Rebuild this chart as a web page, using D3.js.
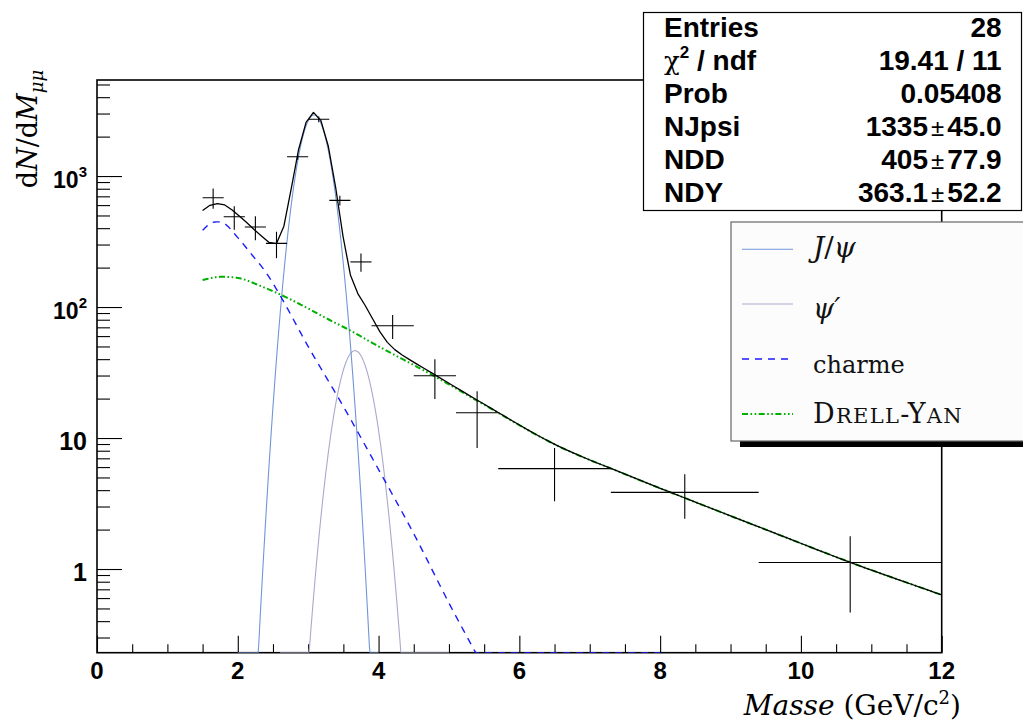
<!DOCTYPE html>
<html><head><meta charset="utf-8">
<script src="https://cdn.jsdelivr.net/npm/d3@7"></script>
<style>body{margin:0;background:#fff} svg{display:block}</style>
</head><body>
<svg id="c" width="1023" height="722"></svg>
<script>
// ---------------- data ----------------
const xDomain = [0, 12];
const yDomain = [0.2297, 5410];
const xMajorTicks = [0, 2, 4, 6, 8, 10, 12];
const xTickLabels = ["0", "2", "4", "6", "8", "10", "12"];
const yMajorTicks = [1, 10, 100, 1000];

// histogram (variable bins)
const binLow  = [1.5, 1.8, 2.1, 2.4, 2.7, 3.0, 3.3, 3.6, 3.9, 4.5, 5.1, 5.7, 7.3, 9.4];
const binHigh = [1.8, 2.1, 2.4, 2.7, 3.0, 3.3, 3.6, 3.9, 4.5, 5.1, 5.7, 7.3, 9.4, 12.0];
const binValue = [683, 489, 408, 306, 1404, 2711, 652, 221, 72, 29.9, 15.6, 5.84, 3.85, 1.12];
const binError = [120, 100, 85, 70, 75, 140, 55, 35, 15, 10, 7.2, 2.55, 1.43, 0.655];

// fit components: gaussian [mean, sigma, integral], drawn range
const jpsiParams = [3.083, 0.182, 1335];
const jpsiRange = [2.0, 4.0];
const psiPrimeParams = [3.665, 0.200, 23.3];
const psiPrimeRange = [2.6, 5.0];

// charm (open charm) component
const charmX = [1.5, 1.6, 1.7, 1.8, 2.0, 2.2, 2.4, 2.6, 3.0, 3.5, 4.0, 4.5, 5.0, 5.5, 6.0, 7.0, 8.0];
const charmY = [385, 431, 447, 437, 339, 251, 184, 123, 50, 17.4, 5.75, 1.86, 0.55, 0.174, 0.055, 0.0055, 0.00055];
// Drell-Yan component
const dyX = [1.5, 1.75, 2.0, 2.32, 2.74, 3.31, 3.6, 4.0, 4.78, 5.45, 6.51, 7.5, 8.36, 9.5, 10.71, 12];
const dyY = [161, 170, 167, 145, 115, 79.4, 66.1, 50.1, 29.9, 18.6, 8.9, 5.3, 3.47, 2.0, 1.12, 0.634];
const totalRange = [1.5, 12.0];

// stats box
const statLabels = ["Entries", "χ2 / ndf", "Prob", "NJpsi", "NDD", "NDY"];
const statValues = ["28", "19.41 / 11", "0.05408", "1335±45.0", "405±77.9", "363.1±52.2"];

// legend
const legendKeys = ["jpsi", "psip", "charm", "dy"];

// ---------------- drawing ----------------
const W = 1023, H = 722;
const L = 97, R = 941.7, T = 80, B = 652.7;
const svg = d3.select("#c");
svg.append("rect").attr("width", W).attr("height", H).attr("fill", "#fff");

const x = d3.scaleLinear().domain(xDomain).range([L, R]);
const y = d3.scaleLog().domain(yDomain).range([B, T]).clamp(true);

svg.append("defs").append("clipPath").attr("id", "frame")
  .append("rect").attr("x", L).attr("y", T).attr("width", R - L).attr("height", B - T);

const styles = {
  jpsi:  {color: "#7096d8", width: 1.1, dash: null},
  psip:  {color: "#a9a9cc", width: 1.1, dash: null},
  charm: {color: "#1a1aff", width: 1.4, dash: "7 6"},
  dy:    {color: "#00b000", width: 2, dash: "6 2.5 1.6 2.5 1.6 2.5"},
  total: {color: "#000", width: 1.3, dash: null}
};

function gauss(p, v) {
  const [m, s, n] = p;
  return n / (s * Math.sqrt(2 * Math.PI)) * Math.exp(-0.5 * ((v - m) / s) ** 2);
}
// monotone cubic (Fritsch-Carlson) through the read points, in log space
function makeLogInterp(xs, ys) {
  const n = xs.length, l = ys.map(Math.log10);
  const d = d3.range(n - 1).map(i => (l[i + 1] - l[i]) / (xs[i + 1] - xs[i]));
  const m = new Array(n);
  m[0] = d[0]; m[n - 1] = d[n - 2];
  for (let i = 1; i < n - 1; i++) m[i] = (d[i - 1] * d[i] <= 0) ? 0 : (d[i - 1] + d[i]) / 2;
  for (let i = 0; i < n - 1; i++) {
    if (d[i] === 0) { m[i] = 0; m[i + 1] = 0; continue; }
    const a = m[i] / d[i], b = m[i + 1] / d[i], s = a * a + b * b;
    if (s > 9) { const t = 3 / Math.sqrt(s); m[i] = t * a * d[i]; m[i + 1] = t * b * d[i]; }
  }
  return v => {
    if (v < xs[0] || v > xs[n - 1]) return 0;
    let i = d3.bisectRight(xs, v) - 1;
    if (i >= n - 1) i = n - 2;
    const h = xs[i + 1] - xs[i], t = (v - xs[i]) / h;
    const h00 = 2 * t ** 3 - 3 * t * t + 1, h10 = t ** 3 - 2 * t * t + t, h01 = -2 * t ** 3 + 3 * t * t, h11 = t ** 3 - t * t;
    return Math.pow(10, h00 * l[i] + h10 * h * m[i] + h01 * l[i + 1] + h11 * h * m[i + 1]);
  };
}
const fns = {
  jpsi: v => gauss(jpsiParams, v),
  psip: v => gauss(psiPrimeParams, v),
  charm: makeLogInterp(charmX, charmY),
  dy: makeLogInterp(dyX, dyY)
};
const total = v => fns.jpsi(v) + fns.psip(v) + fns.charm(v) + fns.dy(v);

function sample(f, a, b, n) {
  return d3.range(n + 1).map(k => { const v = a + (b - a) * k / n; return [v, Math.max(f(v), 1e-12)]; });
}
const line = d3.line().x(d => x(d[0])).y(d => y(d[1]));

// axes (inward ticks)
const xMinor = d3.range(0, 12.01, 0.5).filter(v => !xMajorTicks.includes(v));
const gx1 = svg.append("g").attr("transform", `translate(0,${B})`)
  .call(d3.axisBottom(x).tickValues(xMajorTicks).tickSize(-17).tickFormat(""));
const gx2 = svg.append("g").attr("transform", `translate(0,${B})`)
  .call(d3.axisBottom(x).tickValues(xMinor).tickSize(-8.5).tickFormat(""));
const yMinor = [];
[0.1, 1, 10, 100, 1000].forEach(d => { for (let k = 2; k <= 9; k++) { const v = d * k; if (v >= yDomain[0] && v <= yDomain[1]) yMinor.push(v); } });
const gy1 = svg.append("g").attr("transform", `translate(${L},0)`)
  .call(d3.axisLeft(y).tickValues(yMajorTicks).tickSize(-25).tickFormat(""));
const gy2 = svg.append("g").attr("transform", `translate(${L},0)`)
  .call(d3.axisLeft(y).tickValues(yMinor).tickSize(-13).tickFormat(""));
[gx1, gx2, gy1, gy2].forEach(g => { g.select(".domain").remove(); g.selectAll("line").attr("stroke", "#000").attr("stroke-width", 1.1); });

// frame
svg.append("rect").attr("x", L).attr("y", T).attr("width", R - L).attr("height", B - T)
  .attr("fill", "none").attr("stroke", "#000").attr("stroke-width", 1.6);

// x tick labels
svg.append("g").selectAll("text").data(xMajorTicks).join("text")
  .attr("x", d => x(d)).attr("y", 679).attr("text-anchor", "middle")
  .attr("font-family", "Liberation Sans, Arial, sans-serif").attr("font-weight", "bold").attr("font-size", 24)
  .text((d, i) => xTickLabels[i]);

// y tick labels
const ylab = svg.append("g").attr("font-family", "Liberation Sans, Arial, sans-serif").attr("font-weight", "bold");
yMajorTicks.forEach(v => {
  const e = Math.round(Math.log10(v));
  const t = ylab.append("text").attr("x", 87).attr("y", y(v) + 11.5).attr("text-anchor", "end");
  if (e <= 1) { t.attr("font-size", 25).text(String(v)); }
  else {
    t.append("tspan").attr("font-size", 23).text("10");
    t.append("tspan").attr("font-size", 15).attr("dy", -11).text(String(e));
  }
});

// axis titles
const yt = svg.append("text").attr("transform", "translate(37,129) rotate(-90)")
  .attr("text-anchor", "middle").attr("font-family", "DejaVu Serif, serif").attr("font-size", 27);
yt.append("tspan").text("d");
yt.append("tspan").attr("font-style", "italic").text("N");
yt.append("tspan").text("/d");
yt.append("tspan").attr("font-style", "italic").text("M");
yt.append("tspan").attr("font-style", "italic").attr("font-size", 18).attr("dy", 6).text("μμ");

const xt = svg.append("text").attr("x", 961).attr("y", 715).attr("text-anchor", "end")
  .attr("font-family", "DejaVu Serif, serif").attr("font-size", 28);
xt.append("tspan").attr("font-style", "italic").text("Masse");
xt.append("tspan").text(" (GeV/c");
xt.append("tspan").attr("font-size", 18).attr("dy", -11).text("2");
xt.append("tspan").attr("dy", 11).text(")");

// curves
const plot = svg.append("g").attr("clip-path", "url(#frame)");
const curveData = {
  charm: sample(fns.charm, charmX[0], charmX[charmX.length - 1], 400),
  dy: sample(fns.dy, dyX[0], dyX[dyX.length - 1], 500),
  psip: sample(fns.psip, psiPrimeRange[0], psiPrimeRange[1], 200),
  jpsi: sample(fns.jpsi, jpsiRange[0], jpsiRange[1], 200),
  total: sample(total, totalRange[0], totalRange[1], 100)
};
["psip", "jpsi", "charm", "dy", "total"].forEach(k => {
  const s = styles[k];
  plot.append("path").attr("d", line(curveData[k])).attr("fill", "none")
    .attr("stroke", s.color).attr("stroke-width", s.width)
    .attr("stroke-dasharray", s.dash).attr("stroke-linejoin", "round");
});

// histogram points with errors
const hist = plot.append("g").attr("stroke", "#000").attr("stroke-width", 1.1);
binValue.forEach((v, i) => {
  const c = (binLow[i] + binHigh[i]) / 2;
  hist.append("line").attr("x1", x(binLow[i])).attr("x2", x(binHigh[i])).attr("y1", y(v)).attr("y2", y(v));
  hist.append("line").attr("x1", x(c)).attr("x2", x(c)).attr("y1", y(v - binError[i])).attr("y2", y(v + binError[i]));
});

// stats box
const sb = svg.append("g");
sb.append("rect").attr("x", 643.5).attr("y", 12.5).attr("width", 378).attr("height", 198)
  .attr("fill", "#fff").attr("stroke", "#000").attr("stroke-width", 1.2);
const sfont = "Liberation Sans, Arial, sans-serif";
statLabels.forEach((lab, i) => {
  const yy = 36.7 + 33 * i;
  const t = sb.append("text").attr("x", 664).attr("y", yy).attr("font-family", sfont)
    .attr("font-weight", "bold").attr("font-size", 28);
  if (lab.startsWith("χ")) {
    t.append("tspan").attr("font-weight", "normal").attr("font-family", "DejaVu Serif, serif").attr("font-size", 26).text("χ");
    t.append("tspan").attr("font-size", 17).attr("dy", -12).text("2");
    t.append("tspan").attr("dy", 12).text(lab.slice(2));
  } else t.text(lab);
  const vt = sb.append("text").attr("x", 1001.7).attr("y", yy).attr("text-anchor", "end")
    .attr("font-family", sfont).attr("font-weight", "bold").attr("font-size", 28);
  const val = statValues[i];
  if (val.includes("±")) {
    const [a, b] = val.split("±");
    vt.append("tspan").text(a);
    vt.append("tspan").attr("font-weight", "normal").attr("font-size", 24).attr("dx", 3).text("±");
    vt.append("tspan").attr("dx", 3).text(b);
  } else vt.text(val);
});

// legend
const lg = svg.append("g");
lg.append("rect").attr("x", 740).attr("y", 231).attr("width", 300).attr("height", 216).attr("fill", "#000");
lg.append("rect").attr("x", 731).attr("y", 222).attr("width", 300).attr("height", 219)
  .attr("fill", "#fcfcfd").attr("stroke", "#666").attr("stroke-width", 1.2);
const legY = [249.3, 304, 359, 414];
const legTextY = [257, 318, 373, 423];
legendKeys.forEach((k, i) => {
  const s = styles[k];
  lg.append("line").attr("x1", 742).attr("x2", 793).attr("y1", legY[i]).attr("y2", legY[i])
    .attr("stroke", s.color).attr("stroke-width", s.width).attr("stroke-dasharray", s.dash);
  const t = lg.append("text").attr("x", 813).attr("y", legTextY[i])
    .attr("font-family", "DejaVu Serif, serif").attr("font-size", 25).attr("fill", "#111");
  if (k === "jpsi") {
    t.attr("font-size", 28);
    t.append("tspan").attr("font-style", "italic").text("J");
    t.append("tspan").text("/");
    t.append("tspan").attr("font-style", "italic").text("ψ");
  } else if (k === "psip") {
    t.attr("font-size", 27);
    t.append("tspan").attr("font-style", "italic").text("ψ′");
  } else if (k === "charm") {
    t.attr("font-size", 24).text("charme");
  } else {
    t.attr("letter-spacing", 1.3);
    t.append("tspan").attr("font-size", 27).text("D");
    t.append("tspan").attr("font-size", 21).text("RELL");
    t.append("tspan").attr("font-size", 27).text("-Y");
    t.append("tspan").attr("font-size", 21).text("AN");
  }
});
</script>
</body></html>
